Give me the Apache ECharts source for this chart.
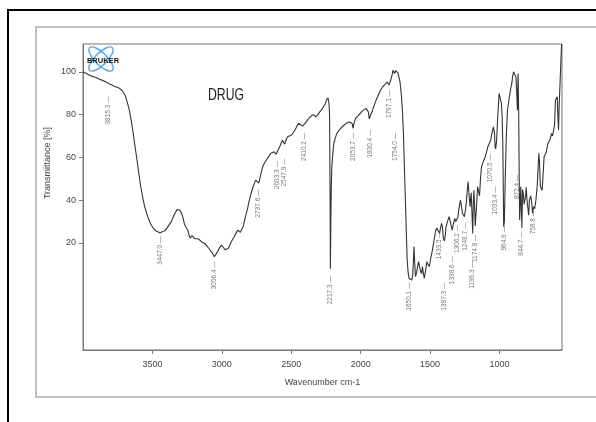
<!DOCTYPE html>
<html>
<head>
<meta charset="utf-8">
<script src="https://cdn.jsdelivr.net/npm/echarts@6/dist/echarts.min.js"></script>
<style>
html,body{margin:0;padding:0;background:#fff;}
#chart{width:596px;height:422px;}
</style>
</head>
<body>
<div id="chart"></div>
<script>
// Wavenumbers (cm-1) and transmittance (%)
var wn = [4000,3970,3940,3910,3885,3860,3840,3816,3795,3775,3745,3720,3705,3693,3680,3666,3652,3638,3625,3611,3598,3584,3570,3556,3535,3515,3495,3474,3460,3446,3430,3405,3385,3364,3345,3323,3312,3303,3290,3282,3270,3260,3252,3245,3235,3227,3215,3205,3195,3186,3170,3158,3145,3131,3118,3104,3090,3076,3065,3054,3042,3030,3015,3002,2990,2975,2962,2953,2940,2925,2910,2898,2886,2876,2866,2857,2845,2830,2815,2802,2788,2775,2765,2756,2745,2734,2720,2706,2692,2679,2662,2646,2635,2624,2610,2598,2583,2574,2564,2556,2548,2538,2528,2515,2500,2486,2473,2460,2446,2432,2418,2405,2391,2377,2363,2344,2333,2322,2308,2295,2281,2268,2256,2246,2235,2228,2224,2221,2218,2215,2212,2208,2200,2194,2183,2172,2158,2145,2125,2104,2085,2071,2062,2055,2048,2036,2015,1994,1978,1962,1952,1945,1938,1934,1928,1918,1910,1899,1884,1870,1857,1843,1830,1818,1808,1800,1797,1790,1780,1772,1767,1762,1756,1753,1748,1739,1732,1725,1716,1706,1698,1692,1685,1678,1670,1665,1658,1651,1642,1632,1625,1620,1616,1612,1605,1598,1590,1583,1576,1570,1561,1555,1549,1542,1535,1528,1523,1516,1506,1495,1487,1479,1470,1459,1452,1446,1440,1432,1425,1418,1412,1408,1405,1397,1390,1385,1375,1363,1355,1348,1341,1332,1322,1315,1308,1300,1290,1281,1274,1267,1260,1253,1246,1240,1233,1226,1219,1212,1208,1204,1199,1193,1189,1185,1180,1175,1171,1165,1158,1151,1144,1137,1130,1117,1103,1094,1084,1074,1063,1055,1044,1040,1036,1032,1028,1022,1012,1003,997,992,986,981,976,970,965,959,951,943,930,920,912,905,899,893,882,876,871,868,866,862,858,855,851,847,844,839,834,828,823,817,812,808,803,797,790,785,776,770,762,755,747,738,728,722,717,712,706,700,693,686,679,672,666,659,652,645,638,632,625,618,611,604,597,590,584,580,575,570,564,558,553];
var tr = [100,99,98,97.5,96.6,96,95.5,94.5,94,93.3,92.6,91.4,90,88.3,85.5,82,77,71,65,58.8,52.5,46.3,41.3,37,32.5,29.2,27,25.6,25,24.8,25.2,26,28,30,33,35.7,36,35.4,33.8,32.3,29,27.6,28,26,23.5,22.2,23.5,23.3,22,21.4,22,21.7,20.5,19.8,19.5,18.3,17.2,16,15,13.6,14.8,16,18,19,18,16.8,16.5,17.5,19.5,21.4,23,24.5,26,26.8,25,24.5,28,32.3,36,40,43.5,46.3,48,49.4,49,48,52,55.6,57.5,58.8,60.5,61.9,62.3,62.6,61.5,63,65,66.5,68,67.2,66.2,68,69.6,70.2,70.4,71.5,72.8,74.5,75.9,75.8,74.6,75.5,76.7,78,79,80,79.7,79,80,81.3,82.3,83.7,85,86.8,87.9,85,80,50,8,30,45,55.6,62,66.5,69,71.2,72.5,73.5,74.8,75.9,76.5,77,76,73.5,76,78.2,79.8,81.3,82.2,82.9,82.5,81.3,78,77.4,80,81.3,83,85,87.5,89.5,91.4,92.8,93.8,94.5,95.3,94.8,93.8,95,96.9,99,100.8,100,99.2,99.2,100.5,100,99.5,97.7,95,88.3,80,71.2,55,40,22,12,6,3.5,3,2.7,5,12,18.3,12,4.3,6,9,11.3,9,7,5.8,9,6,3.5,6,9,11.3,10,9,13,15.5,18.3,22,26,27,27.6,26.5,24.5,27,29.2,28,25,22.2,21,24,27.6,30,32.3,30,28,26,29,31.5,30,30.5,32,37,40,37,33.9,33,32.3,35,38.5,44,48.6,42,37,41,43.5,35,24.5,38,44.7,38,28,27.6,38,46.3,44,42,50,55.6,58,60.3,62.5,65,66.5,68,71.2,74.3,73,71.2,65,64,67,80,89.9,90.5,89.9,85,79,65,27.6,30,50,70,82,88,92,94.5,98,100,99.5,97.7,90,82,95,99.2,80,50,30.7,38,46.3,40,27,45,43,38,38,42,46,41,37,33,40,42,40,33.9,37,36,40,47,55,61.9,58,46.5,47,44.5,52,60.3,61,61.9,64,66.5,67,68,69.5,71.2,70,69.6,75,86.8,87.5,88.3,80,72.8,85,94.5,105,113];

// Peak annotations: label text, wavenumber, transmittance of label top
var peakLabels = ["3815.3","3447.0","3056.4","2737.6","2603.3","2547.9","2410.2","2217.3","2053.7","1930.4","1797.1","1754.0","1650.1","1433.5","1397.3","1338.6","1306.2","1248.7","1196.3","1174.8","1070.5","1033.4","964.9","872.4","844.7","758.8"];
var peakWn = [3815.3,3447.0,3056.4,2737.6,2603.3,2547.9,2410.2,2217.3,2053.7,1930.4,1797.1,1754.0,1650.1,1433.5,1397.3,1338.6,1306.2,1248.7,1196.3,1174.8,1070.5,1033.4,964.9,872.4,844.7,758.8];
var peakT = [89,23.5,12,45.5,58.8,60,72,5,72,73.5,92,72,2,26,2,14.4,29,30,12,24.5,62,47,28.4,52.5,26,36];

var xTicks = [3500,3000,2500,2000,1500,1000];
var yTicks = [20,40,60,80,100];

var lineData = wn.map(function(w,i){return [w,tr[i]];});
var peakData = peakWn.map(function(w,i){return {name:peakLabels[i], value:[w,peakT[i]]};});

var chart = echarts.init(document.getElementById('chart'), null, {renderer:'canvas'});
var axisFont = {fontFamily:'Liberation Sans', fontSize:9, color:'#444'};
chart.setOption({
  animation:false,
  backgroundColor:'#fff',
  grid:{left:83, right:34, top:44, bottom:72, show:true, borderColor:'#777', borderWidth:1, backgroundColor:'transparent'},
  xAxis:{
    type:'value', inverse:true, min:550, max:4000,
    name:'Wavenumber cm-1', nameLocation:'middle', nameGap:28,
    nameTextStyle:{fontFamily:'Liberation Sans', fontSize:9, color:'#444'},
    axisLine:{show:true, onZero:false, lineStyle:{color:'#777'}},
    axisTick:{show:true, length:4, customValues:xTicks, lineStyle:{color:'#777'}},
    axisLabel:Object.assign({margin:10, customValues:xTicks, formatter:function(v){return String(v);}}, axisFont),
    splitLine:{show:false}
  },
  yAxis:{
    type:'value', min:-30, max:113,
    axisLine:{show:true, onZero:false, lineStyle:{color:'#777'}},
    axisTick:{show:true, length:4, customValues:yTicks, lineStyle:{color:'#777'}},
    axisLabel:Object.assign({margin:7, customValues:yTicks, formatter:function(v){return String(v);}}, axisFont),
    splitLine:{show:false}
  },
  series:[
    {type:'line', data:lineData, showSymbol:false, symbol:'none', smooth:false,
     lineStyle:{color:'#333', width:1.1}, z:3},
    {type:'scatter', data:peakData, symbolSize:0, silent:true, z:4,
     label:{show:true, formatter:'{b} \u2014', rotate:90, position:'bottom', distance:1,
            align:'right', verticalAlign:'middle',
            fontFamily:'Liberation Sans', fontSize:6.5, color:'#555'}}
  ],
  graphic:[
    {type:'rect', shape:{x:8, y:10, width:600, height:420}, style:{fill:'none', stroke:'#000', lineWidth:2}, z:0},
    {type:'rect', shape:{x:36, y:27, width:580, height:370}, style:{fill:'none', stroke:'#aaa', lineWidth:1.5}, z:0},
    {type:'text', x:48, y:163, rotation:Math.PI/2, style:{text:'Transmittance [%]', fontFamily:'Liberation Sans', fontSize:9, fill:'#444', align:'center', verticalAlign:'middle'}},
    {type:'text', x:226, y:95, scaleX:0.72, style:{text:'DRUG', fontFamily:'Liberation Sans', fontSize:17, fill:'#222', align:'center', verticalAlign:'middle'}},
    {type:'ellipse', x:101, y:59, rotation:Math.PI/4, shape:{cx:0, cy:0, rx:16, ry:6}, style:{fill:'none', stroke:'#5aa8e8', lineWidth:1.5}, z:10},
    {type:'ellipse', x:101, y:59, rotation:-Math.PI/4, shape:{cx:0, cy:0, rx:16, ry:6}, style:{fill:'none', stroke:'#5aa8e8', lineWidth:1.5}, z:10},
    {type:'text', x:103, y:61, style:{text:'BRUKER', fontFamily:'Liberation Sans', fontWeight:'bold', fontSize:7.5, fill:'#111', align:'center', verticalAlign:'middle'}, z:11}
  ]
});
</script>
</body>
</html>
